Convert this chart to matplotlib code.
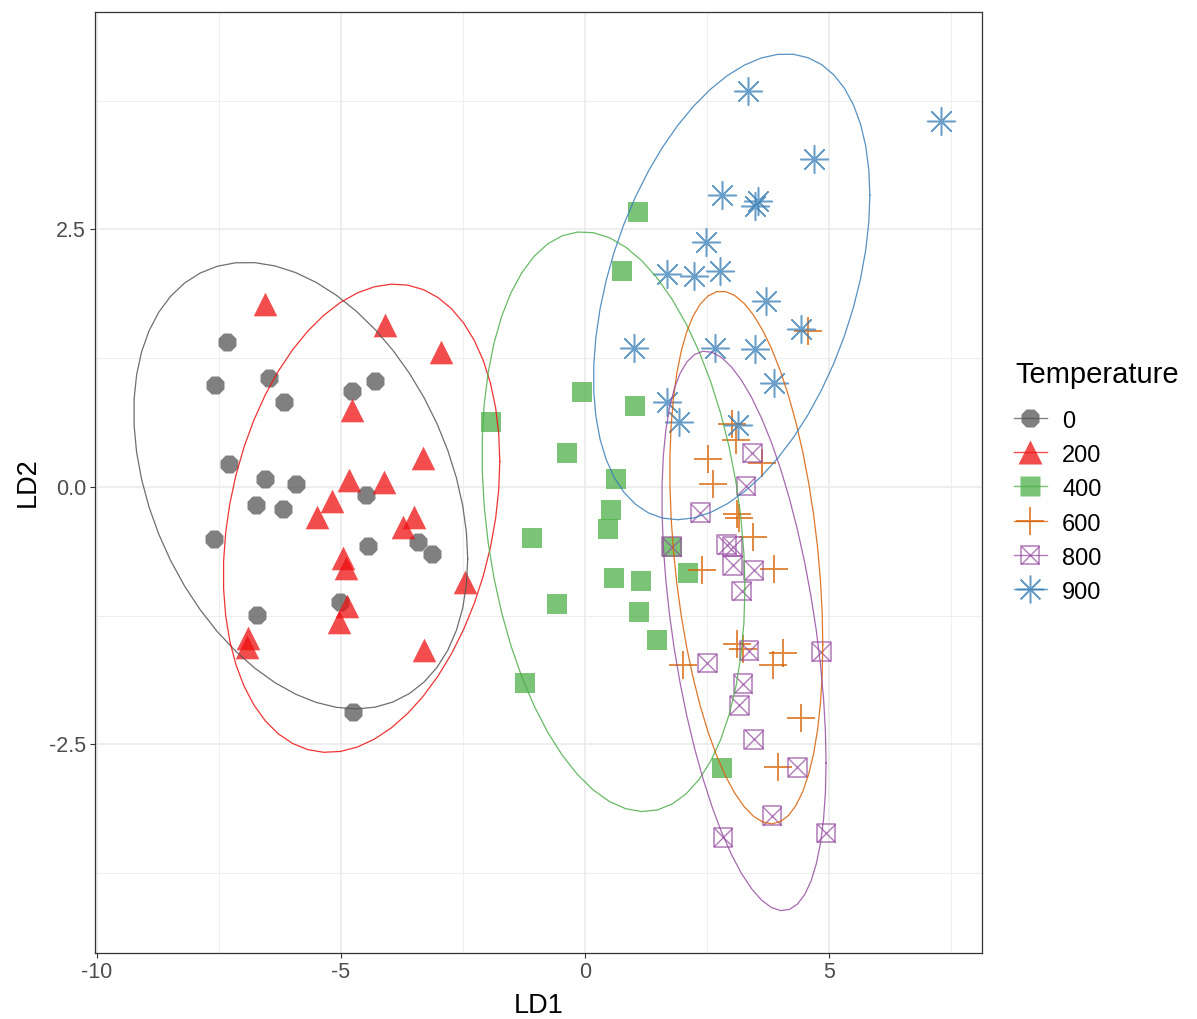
import numpy as np
import matplotlib
matplotlib.use("Agg")
import matplotlib.pyplot as plt
from matplotlib.lines import Line2D

plt.rcParams['font.family'] = ['Liberation Sans', 'DejaVu Sans']

# LD scores per temperature group
ld1_0 = [-7.34, -7.58, -6.48, -6.17, -4.77, -4.30, -7.30, -6.56, -5.92, -6.74,
         -6.19, -4.49, -7.60, -4.45, -3.42, -3.14, -6.72, -5.02, -4.75]
ld2_0 = [1.41, 0.99, 1.06, 0.82, 0.93, 1.03, 0.22, 0.08, 0.03, -0.18,
         -0.21, -0.08, -0.51, -0.57, -0.53, -0.65, -1.24, -1.12, -2.18]

ld1_200 = [-6.56, -4.10, -2.95, -4.77, -3.31, -4.83, -4.12, -5.18, -5.49, -3.50,
           -3.73, -4.95, -4.90, -2.45, -4.88, -5.05, -6.91, -6.92, -3.30]
ld2_200 = [1.78, 1.57, 1.31, 0.75, 0.28, 0.07, 0.05, -0.14, -0.29, -0.29,
           -0.39, -0.69, -0.79, -0.92, -1.16, -1.31, -1.47, -1.55, -1.58]

ld1_400 = [1.09, 0.76, -0.06, 1.03, -1.93, -0.37, 0.64, 0.54, 0.48, -1.09,
           1.78, 0.59, 1.14, 2.12, -0.57, 1.11, 1.47, -1.22, 2.80]
ld2_400 = [2.67, 2.10, 0.92, 0.79, 0.63, 0.33, 0.08, -0.22, -0.41, -0.50,
           -0.58, -0.88, -0.91, -0.84, -1.14, -1.21, -1.49, -1.90, -2.73]

ld1_600 = [4.56, 3.01, 3.09, 2.53, 2.62, 3.62, 3.12, 3.16, 3.45, 2.39,
           3.88, 2.01, 3.11, 3.24, 4.05, 3.86, 4.43, 3.96]
ld2_600 = [1.51, 0.61, 0.46, 0.27, 0.03, 0.23, -0.26, -0.30, -0.49, -0.81,
           -0.80, -1.73, -1.52, -1.57, -1.61, -1.73, -2.24, -2.72]

ld1_800 = [3.43, 3.30, 2.36, 1.78, 2.90, 3.03, 3.03, 3.46, 3.21, 4.84,
           3.36, 2.51, 3.24, 3.16, 3.46, 4.35, 3.83, 2.83, 4.94]
ld2_800 = [0.33, 0.01, -0.25, -0.58, -0.56, -0.58, -0.76, -0.81, -1.01, -1.60,
           -1.59, -1.71, -1.91, -2.12, -2.45, -2.72, -3.19, -3.40, -3.36]

ld1_900 = [3.33, 7.30, 4.69, 2.80, 3.55, 3.48, 2.48, 1.69, 2.24, 2.76,
           3.71, 4.42, 1.01, 2.66, 3.48, 3.87, 1.69, 1.93, 3.14]
ld2_900 = [3.84, 3.55, 3.18, 2.83, 2.78, 2.73, 2.38, 2.07, 2.05, 2.10,
           1.80, 1.53, 1.35, 1.35, 1.34, 1.01, 0.82, 0.63, 0.60]

temps = ['0', '200', '400', '600', '800', '900']
xs = [ld1_0, ld1_200, ld1_400, ld1_600, ld1_800, ld1_900]
ys = [ld2_0, ld2_200, ld2_400, ld2_600, ld2_800, ld2_900]

colors = ['#555555', '#EE1010', '#4DAF4A', '#D95F02', '#984EA3', '#377EB8']


def cov_trob(x, nu=5, maxit=25, tol=0.01):
    # same as MASS::cov.trob, used by stat_ellipse
    n, p = x.shape
    loc = x.mean(axis=0)
    w = np.ones(n)
    for _ in range(maxit):
        w0 = w
        X = x - loc
        _, d, vt = np.linalg.svd(np.sqrt(w / w.sum())[:, None] * X, full_matrices=False)
        wX = X @ vt.T @ np.diag(1 / d)
        Q = (wX ** 2).sum(axis=1)
        w = (nu + p) / (nu + Q)
        loc = (w[:, None] * x).sum(axis=0) / w.sum()
        if np.all(np.abs(w - w0) < tol):
            break
    sw = np.sqrt(w)[:, None] * X
    return loc, sw.T @ sw / n


def ellipse(x, y, level=0.95, segments=51):
    pts = np.column_stack([x, y])
    center, shape = cov_trob(pts)
    dfd = len(x) - 1
    radius = np.sqrt(dfd * ((1 - level) ** (-2 / dfd) - 1))
    ang = np.linspace(0, 2 * np.pi, segments + 1)
    circ = np.column_stack([np.cos(ang), np.sin(ang)])
    L = np.linalg.cholesky(shape)
    e = center + radius * circ @ L.T
    return e[:, 0], e[:, 1]


fig = plt.figure(figsize=(11.97, 10.19), dpi=100)
ax = fig.add_axes([95 / 1197, 1 - 953 / 1019, 887 / 1197, 941 / 1019])

alpha = 0.75
ax.scatter(xs[0], ys[0], marker='8', s=14 ** 2, color=colors[0], alpha=alpha, lw=0, zorder=3)
ax.scatter(xs[1], ys[1], marker='^', s=17 ** 2, color=colors[1], alpha=alpha, lw=0, zorder=3)
ax.scatter(xs[2], ys[2], marker='s', s=14 ** 2, color=colors[2], alpha=alpha, lw=0, zorder=3)
ax.scatter(xs[3], ys[3], marker='+', s=20 ** 2, color=colors[3], alpha=alpha, lw=1.4, zorder=3)
ax.scatter(xs[4], ys[4], marker='s', s=13.5 ** 2, facecolor='none', edgecolor=colors[4],
           alpha=alpha, lw=1.1, zorder=3)
ax.scatter(xs[4], ys[4], marker='x', s=13.5 ** 2, color=colors[4], alpha=alpha, lw=1.0, zorder=3)
ax.scatter(xs[5], ys[5], marker=(8, 2, 0), s=20 ** 2, color=colors[5], alpha=alpha, lw=1.1, zorder=3)

for x, y, c in zip(xs, ys, colors):
    ex, ey = ellipse(np.array(x), np.array(y))
    ax.plot(ex, ey, color=c, lw=0.9, alpha=0.85, zorder=4)

ax.set_xlim(-10.04, 8.135)
ax.set_ylim(-4.524, 4.61)
ax.set_xticks([-10, -5, 0, 5])
ax.set_xticklabels(['-10', '-5', '0', '5'])
ax.set_yticks([-2.5, 0, 2.5])
ax.set_yticklabels(['-2.5', '0.0', '2.5'])
ax.set_xticks([-7.5, -2.5, 2.5, 7.5], minor=True)
ax.set_yticks([-3.75, -1.25, 1.25, 3.75], minor=True)
ax.grid(which='major', color='#EBEBEB', lw=1.2, zorder=0)
ax.grid(which='minor', color='#EBEBEB', lw=0.6, zorder=0)
ax.set_axisbelow(True)
ax.tick_params(which='major', colors='#333333', labelcolor='#4D4D4D', labelsize=15.5,
               length=3.5, width=0.8, pad=3)
ax.tick_params(which='minor', length=0)
for sp in ax.spines.values():
    sp.set_color('#333333')
    sp.set_linewidth(0.9)
ax.set_xlabel('LD1', fontsize=19.5, labelpad=7)
ax.set_ylabel('LD2', fontsize=19.5, labelpad=6)

# legend keys: marker with the ellipse line through it
handles = [
    Line2D([], [], color=colors[0], marker='8', ms=14, mec='none', alpha=alpha, lw=1),
    Line2D([], [], color=colors[1], marker='^', ms=17, mec='none', alpha=alpha, lw=1),
    Line2D([], [], color=colors[2], marker='s', ms=14, mec='none', alpha=alpha, lw=1),
    Line2D([], [], color=colors[3], marker='+', ms=20, mew=1.4, alpha=alpha, lw=1),
    (Line2D([], [], color=colors[4], marker='s', ms=13.5, mfc='none', mew=1.1, alpha=alpha, lw=1),
     Line2D([], [], color=colors[4], marker='x', ms=13.5, mew=1.0, alpha=alpha, lw=0)),
    Line2D([], [], color=colors[5], marker=(8, 2, 0), ms=20, mew=1.1, alpha=alpha, lw=1),
]
fig.text(1015 / 1197, 1 - 375 / 1019, 'Temperature', fontsize=21, va='center', ha='left')
leg = fig.legend(handles, temps, loc='center left',
                 bbox_to_anchor=(1002 / 1197, 1 - 506 / 1019), frameon=False,
                 fontsize=17, handlelength=1.4, handleheight=1.2, labelspacing=0.385,
                 handletextpad=0.65, borderpad=0)

fig.savefig('out.png', dpi=100)
